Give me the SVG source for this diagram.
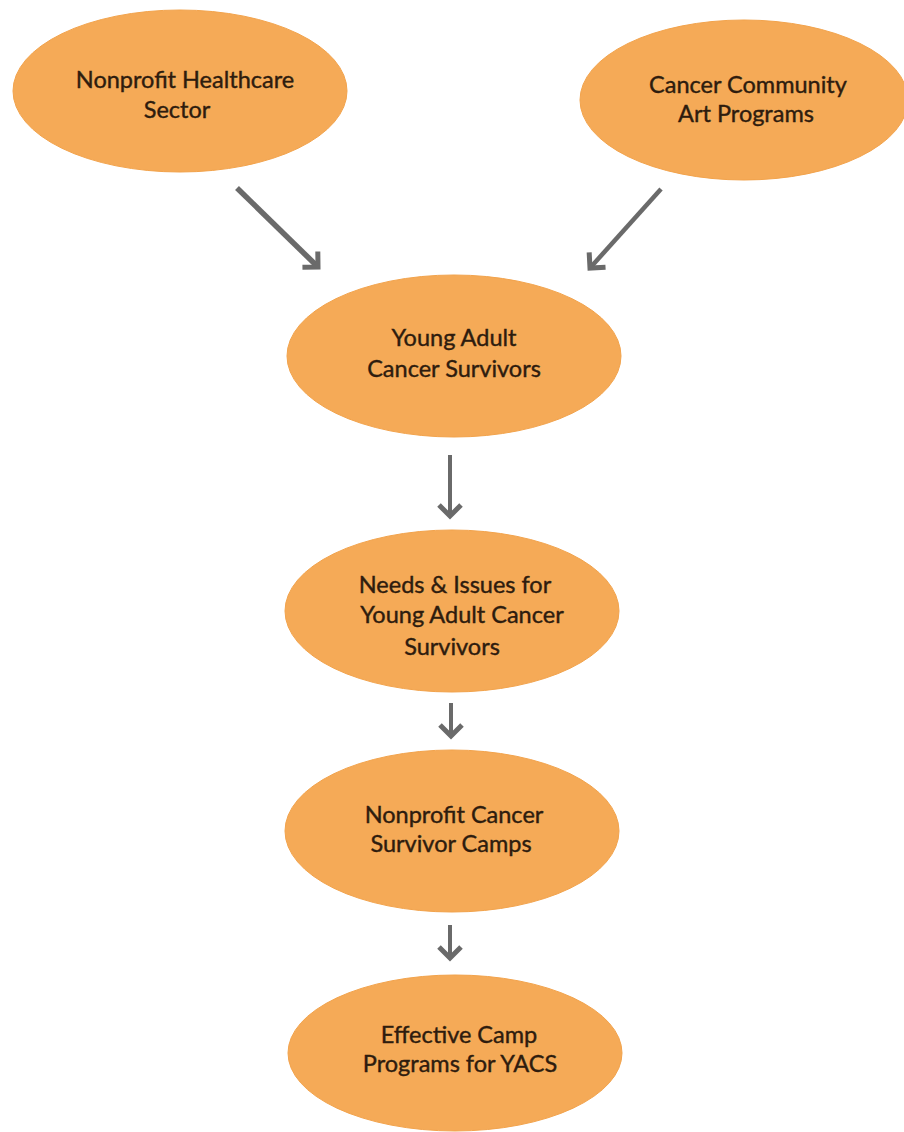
<svg xmlns="http://www.w3.org/2000/svg" width="904" height="1132" viewBox="0 0 904 1132">
<style>
.node ellipse{fill:#F5AA57;stroke:#F2A34C;stroke-width:1}
.node text{font-family:Lato,"Open Sans","Liberation Sans",sans-serif;font-size:23.5px;fill:#2E1C0E;stroke:#2E1C0E;stroke-width:0.4;text-anchor:middle}
.conn line{stroke:#6A6A6A;fill:none}
</style>
<defs>
<marker id="ah" markerUnits="userSpaceOnUse" viewBox="-20 -15 24 30" refX="0" refY="0" markerWidth="24" markerHeight="30" orient="auto">
<path d="M -11 -11 L 0 0 L -11 11" fill="none" stroke="#6A6A6A" stroke-width="5" stroke-linecap="butt" stroke-linejoin="miter"/>
</marker>
</defs>
<rect width="904" height="1132" fill="#FFFFFF"/>
<g class="conn" id="connectors">
<line x1="237" y1="188" x2="318" y2="267" stroke-width="5.5" marker-end="url(#ah)"/>
<line x1="661" y1="189" x2="590" y2="268" stroke-width="4.5" marker-end="url(#ah)"/>
<line x1="450" y1="455" x2="450" y2="516" stroke-width="4" marker-end="url(#ah)"/>
<line x1="451" y1="703" x2="451" y2="736" stroke-width="4" marker-end="url(#ah)"/>
<line x1="450" y1="925" x2="450" y2="958" stroke-width="4" marker-end="url(#ah)"/>
</g>
<g class="node" id="n1">
<ellipse cx="180" cy="91" rx="167" ry="81"/>
<text x="185" y="88">Nonprofit Healthcare</text>
<text x="177" y="118">Sector</text>
</g>
<g class="node" id="n2">
<ellipse cx="744" cy="100" rx="164" ry="80"/>
<text x="748" y="93">Cancer Community</text>
<text x="746" y="122">Art Programs</text>
</g>
<g class="node" id="n3">
<ellipse cx="454" cy="356" rx="167" ry="81"/>
<text x="454" y="346">Young Adult</text>
<text x="454" y="377">Cancer Survivors</text>
</g>
<g class="node" id="n4">
<ellipse cx="452" cy="611" rx="167" ry="81"/>
<text x="455" y="593">Needs &amp; Issues for</text>
<text x="462" y="623">Young Adult Cancer</text>
<text x="452" y="655">Survivors</text>
</g>
<g class="node" id="n5">
<ellipse cx="452" cy="831" rx="167" ry="81"/>
<text x="454" y="823">Nonprofit Cancer</text>
<text x="451" y="852">Survivor Camps</text>
</g>
<g class="node" id="n6">
<ellipse cx="455" cy="1053" rx="167" ry="78"/>
<text x="459" y="1043">Effective Camp</text>
<text x="460" y="1072">Programs for YACS</text>
</g>
</svg>
